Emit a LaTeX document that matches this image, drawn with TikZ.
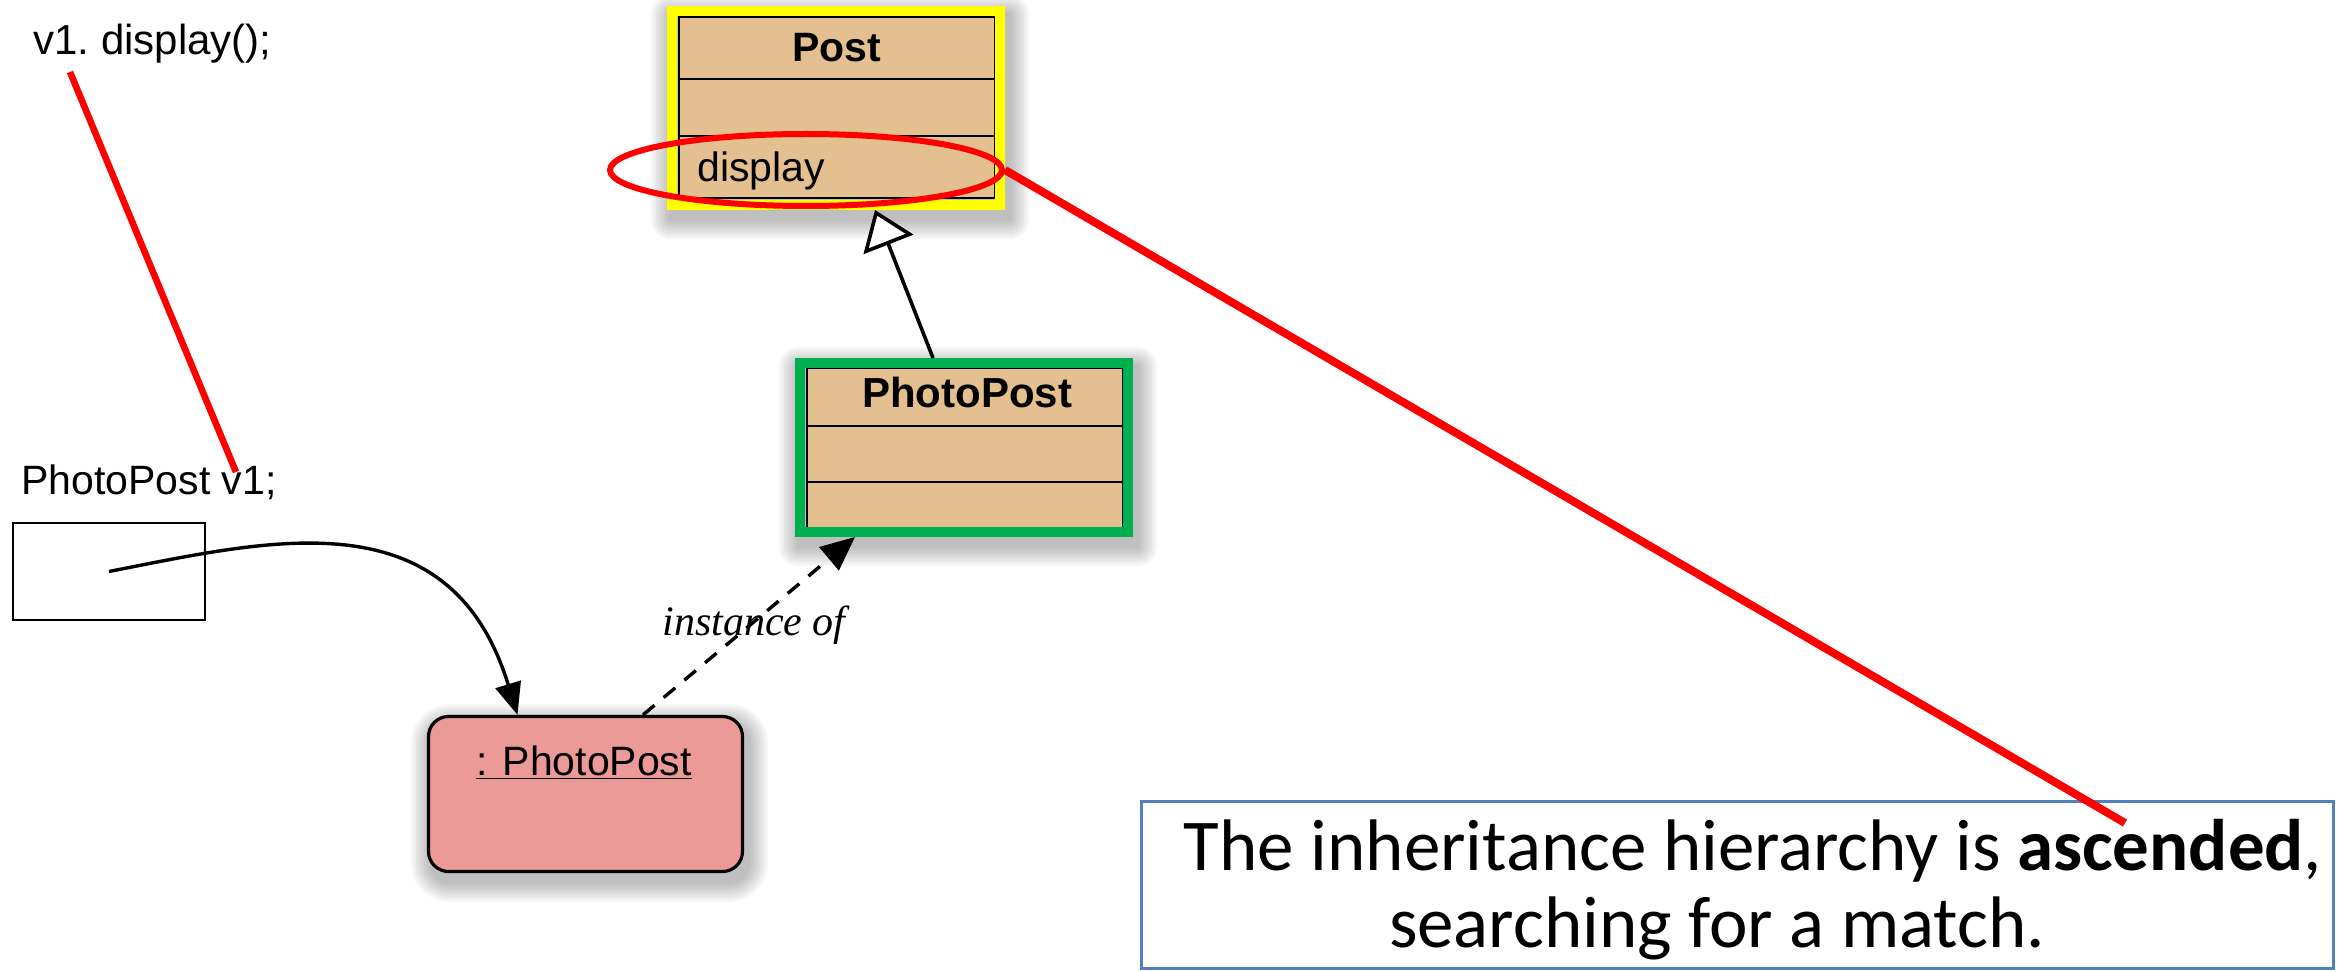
\documentclass[tikz,border=0pt]{standalone}
\usepackage{fontspec}
\setmainfont{Liberation Sans}
\newfontfamily\serifit{Liberation Serif}
\newfontfamily\notefont{Carlito}
\usetikzlibrary{arrows.meta,shapes.geometric,calc}
\definecolor{classtan}{RGB}{228,191,143}
\definecolor{objpink}{RGB}{236,154,152}
\definecolor{framegreen}{RGB}{0,176,80}
\definecolor{frameyellow}{RGB}{255,255,0}
\definecolor{noteblue}{RGB}{79,129,189}
\newcommand\mysoftshadow[4]{%
  \foreach \d in {1,...,8}{%
    \fill[black,opacity=0.035,rounded corners=1.2*\d] ({#1+4-2.5*\d},{#2+9-2.5*\d}) rectangle ({#3+4+2.5*\d},{#4+9+2.5*\d});}}
\begin{document}
\begin{tikzpicture}[x=0.5pt,y=-0.5pt,
  classbg/.style={fill=classtan,draw=black,line width=1.2pt},
  divider/.style={draw=black,line width=1.4pt},
  codetext/.style={font=\fontsize{20.5}{24}\selectfont,inner sep=0},
  classname/.style={font=\fontsize{20.5}{24}\selectfont\bfseries,inner sep=0,anchor=base},
  frame/.style={line width=5pt,inner sep=0,minimum width=164pt},
  redline/.style={draw=red,line width=3.3pt},
  solidarrow/.style={line width=1.7pt,-{Triangle[length=16pt,width=13pt]}},
  notetext/.style={font=\notefont\fontsize{36.5}{44}\selectfont,inner sep=0,anchor=base}]
\useasboundingbox (0,0) rectangle (2339,972);

% --- Post class
\mysoftshadow{667}{6}{1005}{210}
\draw[classbg] (679,17) rectangle (995,198);
\draw[divider] (679,79) -- (995,79);
\draw[divider] (679,136) -- (995,136);
\node[classname] (postname) at (837,62) {Post};
\node[codetext,anchor=base west] (postop) at (697,182) {display};
\node[frame,draw=frameyellow,minimum height=97pt] (post) at (836,108) {};

% --- PhotoPost class
\mysoftshadow{795}{358}{1133}{537}
\draw[classbg] (807,368) rectangle (1123,528);
\draw[divider] (807,426) -- (1123,426);
\draw[divider] (807,482) -- (1123,482);
\node[classname,font=\fontsize{21}{24}\selectfont\bfseries] (ppname) at (967,408) {PhotoPost};
\node[frame,draw=framegreen,minimum height=84.5pt] (photopost) at (964,447.5) {};

% --- object
\foreach \d in {1,...,8}{%
  \fill[black,opacity=0.035,rounded corners=10pt+1.2*\d] ({427+4-2.5*\d},{715+9-2.5*\d}) rectangle ({744+4+2.5*\d},{873+9+2.5*\d});}
\node[draw=black,line width=1.6pt,fill=objpink,rounded corners=10pt,inner sep=0,
      minimum width=157pt,minimum height=77.5pt] (obj) at (585.5,794) {};
\node[codetext,anchor=base] (objname) at (584,775) {\underline{: PhotoPost}};

% --- variable
\node[codetext,font=\fontsize{21}{24}\selectfont,anchor=base west] (callcode) at (33,55) {v1.\ display();};
\node[codetext,anchor=base west] (decl) at (21,495) {PhotoPost v1;};
\node[draw=black,line width=1.3pt,inner sep=0,minimum width=96pt,minimum height=48.5pt] (varbox) at (109,571.5) {};

% --- connectors
\draw[solidarrow] (varbox.center) .. controls (270,540) and (450,495) .. ([xshift=-34pt]obj.north);
\draw[line width=1.7pt,dash pattern=on 7.5pt off 6pt,-{Triangle[length=17pt,width=15pt]}]
  ([xshift=28.75pt]obj.north) -- ([xshift=-54.5pt]photopost.south);
\node[font=\serifit\itshape\fontsize{21}{24}\selectfont,inner sep=0,anchor=base west] (inst) at (662,635) {instance of};
\draw[line width=1.8pt,-{Triangle[open,fill=white,length=18.5pt,width=26.5pt]}]
  ([xshift=-15.5pt]photopost.north) -- ([xshift=19.5pt]post.south);

% --- note
\node[draw=noteblue,line width=1.6pt,fill=white,inner sep=0,minimum width=596pt,minimum height=83.5pt] (note) at (1737.5,885) {};
\node[notetext] (note1) at (1753,870) {The inheritance hierarchy is \textbf{ascended},};
\node[notetext] (note2) at (1717,947) {searching for a match.};

% --- red highlights
\node[draw=red,line width=3pt,ellipse,inner sep=0,minimum width=196pt,minimum height=36pt] (hl) at (806,170) {};
\coordinate (callpt) at (70,72);
\coordinate (declpt) at (236,472);
\coordinate (asc) at (2125,823);
\draw[redline] (callpt) -- (declpt);
\draw[redline,line width=4pt] (hl.east) -- (asc);
\end{tikzpicture}
\end{document}
